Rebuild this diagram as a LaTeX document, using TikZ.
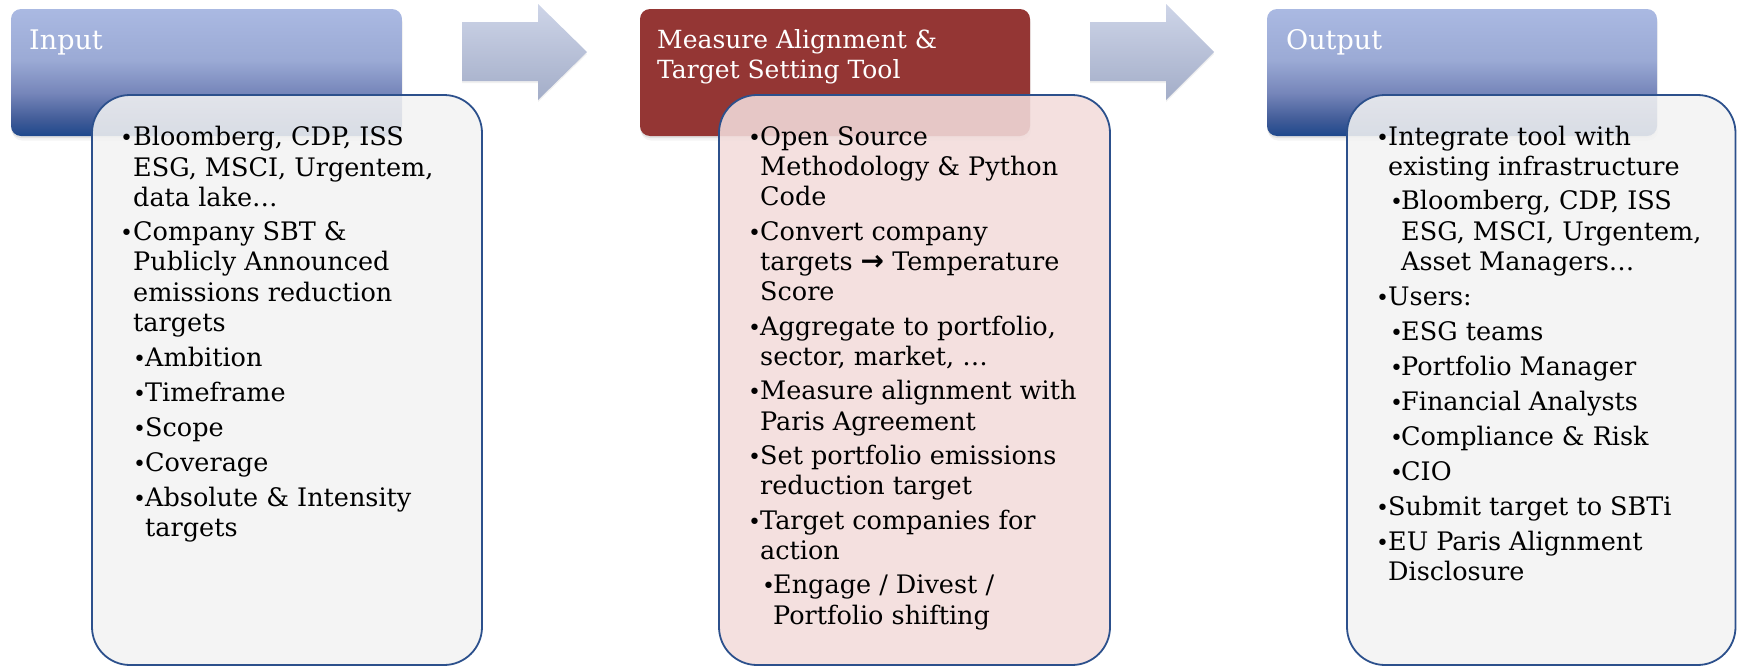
\documentclass[tikz,border=0pt]{standalone}
\usepackage{fontspec}
\setmainfont{DejaVu Serif}
\newfontfamily\symfont{DejaVu Sans}
\usetikzlibrary{shadows}
\definecolor{hdrred}{RGB}{148,54,52}
\definecolor{bodygray}{RGB}{242,242,242}
\definecolor{bodyred}{RGB}{242,220,219}
\definecolor{edgeblue}{RGB}{44,80,140}
\definecolor{arrtop}{RGB}{206,213,232}
\definecolor{arrbot}{RGB}{163,173,200}
\pgfdeclareverticalshading{hdrblue}{100bp}{rgb(0bp)=(0.118,0.282,0.549); rgb(25bp)=(0.118,0.282,0.549); rgb(31.5bp)=(0.255,0.36,0.596); rgb(42bp)=(0.463,0.525,0.729); rgb(55bp)=(0.608,0.667,0.835); rgb(75bp)=(0.667,0.725,0.886); rgb(100bp)=(0.667,0.725,0.886)}
\newcommand\bodyfont{\fontsize{25.5}{30}\selectfont}
\newcommand\hdrfont{\fontsize{27}{30}\selectfont}
\newcommand\hdrsmall{\fontsize{25}{30}\selectfont}
\newcommand\bul{{\fontsize{22}{22}\selectfont •}}
\tikzset{
  hshadow/.style={drop shadow={shadow xshift=0pt,shadow yshift=-2pt,opacity=.16},
                  drop shadow={shadow xshift=1pt,shadow yshift=-4.5pt,opacity=.09}},
  hdrbluebox/.style={shading=hdrblue,rounded corners=10pt,hshadow},
  hdrredbox/.style={fill=hdrred,rounded corners=10pt,hshadow},
  bodybox/.style={fill=#1,fill opacity=.88,draw=edgeblue,line width=1.8pt,rounded corners=38pt},
  blockarrow/.style={top color=arrtop,bottom color=arrbot,
                     drop shadow={shadow xshift=0pt,shadow yshift=-2pt,opacity=.12}},
  txt/.style={anchor=base west,inner sep=0pt,font=\bodyfont,text=black},
  bt/.style={anchor=base west,inner sep=0pt,text=black},
  htxt/.style={anchor=base west,inner sep=0pt,text=white},
}
\begin{document}
\begin{tikzpicture}[x=1pt,y=-1pt]
\useasboundingbox (0,0) rectangle (1737,667);
% block arrows
\path[blockarrow] (462,22) -- (538,22) -- (538,4) -- (587,52) -- (538,100) -- (538,81) -- (462,81) -- cycle;
\path[blockarrow] (1090,22) -- (1166,22) -- (1166,4) -- (1214,52) -- (1166,100) -- (1166,81) -- (1090,81) -- cycle;
% headers
\path[hdrbluebox] (11,9) rectangle (402,136);
\path[hdrredbox] (640,9) rectangle (1030,136);
\path[hdrbluebox] (1267,9) rectangle (1657,136);
\node[htxt,font=\hdrfont] (hin) at (29,49) {Input};
\node[htxt,font=\hdrsmall] (hmid1) at (657,48) {Measure Alignment \&};
\node[htxt,font=\hdrsmall] (hmid2) at (657,78) {Target Setting Tool};
\node[htxt,font=\hdrfont] (hout) at (1286,49) {Output};
% bodies
\path[bodybox=bodygray] (92,95) rectangle (482,665);
\path[bodybox=bodyred] (719,95) rectangle (1110,665);
\path[bodybox=bodygray] (1347,95) rectangle (1735.5,665);
% ---------- input text
\node[bt] (ib1) at (120,145) {\bul};
\node[txt] (it1) at (133,145) {Bloomberg, CDP, ISS};
\node[txt] (it2) at (133,176) {ESG, MSCI, Urgentem,};
\node[txt] (it3) at (133,206) {data lake…};
\node[bt] (ib2) at (120,240) {\bul};
\node[txt] (it4) at (133,240) {Company SBT \&};
\node[txt] (it5) at (133,270) {Publicly Announced};
\node[txt] (it6) at (133,301) {emissions reduction};
\node[txt] (it7) at (133,331) {targets};
\node[bt] (ib3) at (133,366) {\bul};
\node[txt] (it8) at (145,366) {Ambition};
\node[bt] (ib4) at (133,401) {\bul};
\node[txt] (it9) at (145,401) {Timeframe};
\node[bt] (ib5) at (133,436) {\bul};
\node[txt] (it10) at (145,436) {Scope};
\node[bt] (ib6) at (133,471) {\bul};
\node[txt] (it11) at (145,471) {Coverage};
\node[bt] (ib7) at (133,506) {\bul};
\node[txt] (it12) at (145,506) {Absolute \& Intensity};
\node[txt] (it13) at (145,536) {targets};
% ---------- middle text
\node[bt] (mb1) at (748,145) {\bul};
\node[txt] (mt1) at (760,145) {Open Source};
\node[txt] (mt2) at (760,175.5) {Methodology \& Python};
\node[txt] (mt3) at (760,205.5) {Code};
\node[bt] (mb2) at (748,240) {\bul};
\node[txt] (mt4) at (760,240) {Convert company};
\node[txt] (mt5) at (760,270) {targets {\symfont\bfseries\fontsize{28}{30}\selectfont →} Temperature};
\node[txt] (mt6) at (760,300.5) {Score};
\node[bt] (mb3) at (748,335) {\bul};
\node[txt] (mt7) at (760,335) {Aggregate to portfolio,};
\node[txt] (mt8) at (760,365) {sector, market, …};
\node[bt] (mb4) at (748,399.5) {\bul};
\node[txt] (mt9) at (760,399.5) {Measure alignment with};
\node[txt] (mt10) at (760,430) {Paris Agreement};
\node[bt] (mb5) at (748,464) {\bul};
\node[txt] (mt11) at (760,464) {Set portfolio emissions};
\node[txt] (mt12) at (760,494.5) {reduction target};
\node[bt] (mb6) at (748,529) {\bul};
\node[txt] (mt13) at (760,529) {Target companies for};
\node[txt] (mt14) at (760,559.5) {action};
\node[bt] (mb7) at (762,593.5) {\bul};
\node[txt] (mt15) at (773,593.5) {Engage / Divest /};
\node[txt] (mt16) at (773,624) {Portfolio shifting};
% ---------- output text
\node[bt] (ob1) at (1376,145) {\bul};
\node[txt] (ot1) at (1388,145) {Integrate tool with};
\node[txt] (ot2) at (1388,175) {existing infrastructure};
\node[bt] (ob2) at (1390,209.5) {\bul};
\node[txt] (ot3) at (1401,209.5) {Bloomberg, CDP, ISS};
\node[txt] (ot4) at (1401,240) {ESG, MSCI, Urgentem,};
\node[txt] (ot5) at (1401,270) {Asset Managers…};
\node[bt] (ob3) at (1376,305) {\bul};
\node[txt] (ot6) at (1388,305) {Users:};
\node[bt] (ob4) at (1390,340) {\bul};
\node[txt] (ot7) at (1401,340) {ESG teams};
\node[bt] (ob5) at (1390,375) {\bul};
\node[txt] (ot8) at (1401,375) {Portfolio Manager};
\node[bt] (ob6) at (1390,410) {\bul};
\node[txt] (ot9) at (1401,410) {Financial Analysts};
\node[bt] (ob7) at (1390,445) {\bul};
\node[txt] (ot10) at (1401,445) {Compliance \& Risk};
\node[bt] (ob8) at (1390,480) {\bul};
\node[txt] (ot11) at (1401,480) {CIO};
\node[bt] (ob9) at (1376,515) {\bul};
\node[txt] (ot12) at (1388,515) {Submit target to SBTi};
\node[bt] (ob10) at (1376,550) {\bul};
\node[txt] (ot13) at (1388,550) {EU Paris Alignment};
\node[txt] (ot14) at (1388,580) {Disclosure};
\end{tikzpicture}
\end{document}
